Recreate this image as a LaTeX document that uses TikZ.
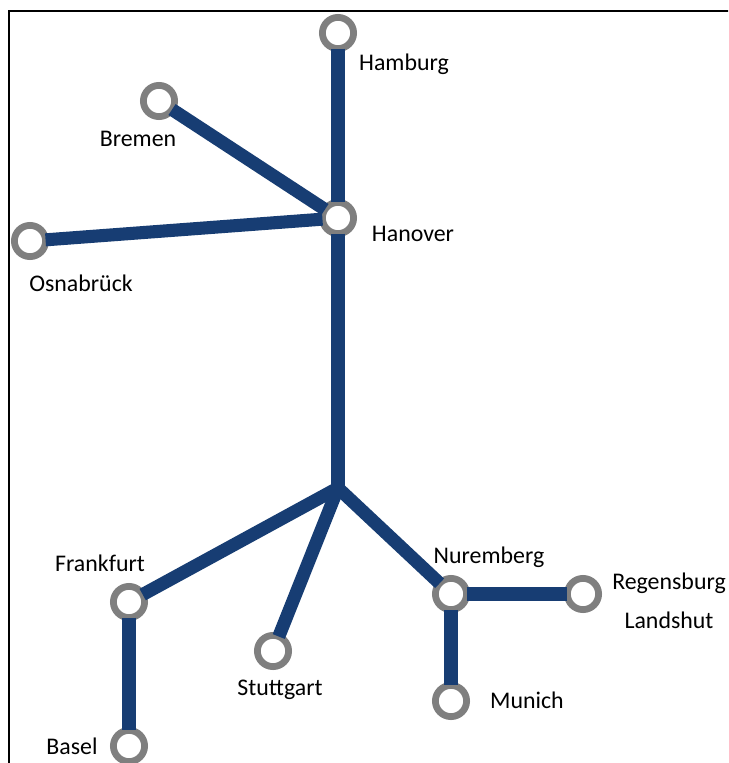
\documentclass[tikz,border=0pt]{standalone}
\usepackage{fontspec}
\setmainfont{Carlito}
\definecolor{linkblue}{HTML}{173D73}
\definecolor{ringgray}{HTML}{7F7F7F}
\tikzset{
  stn/.style={circle,draw=ringgray,fill=white,line width=5.1pt,minimum size=23.4pt,inner sep=0pt,outer sep=0pt},
  link/.style={draw=linkblue,line width=9.8pt},
  lbl/.style={font=\fontsize{17.9pt}{19pt}\selectfont,text=black,inner sep=0pt}
}
\begin{document}
\begin{tikzpicture}[x=0.75pt,y=-0.75pt]
\useasboundingbox (0,0) rectangle (728,763);
\clip (0,0) rectangle (728,763);
\fill[white] (0,0) rectangle (728,763);
\draw[black,line width=1.5pt] (8.5,770) -- (8.5,11) -- (735,11);
\node[stn] (hamburg) at (338,33) {};
\node[stn] (bremen) at (159,101) {};
\node[stn] (hanover) at (338,218) {};
\node[stn] (osna) at (30,241) {};
\node[stn] (frankfurt) at (129,602) {};
\node[stn] (basel) at (129,746) {};
\node[stn] (stuttgart) at (273,651) {};
\node[stn] (nuremberg) at (451,594) {};
\node[stn] (regensburg) at (583,594) {};
\node[stn] (munich) at (451,701) {};
\coordinate (fork) at (338,488);
\draw[link] (hamburg) -- (hanover);
\draw[link] (bremen) -- (hanover);
\draw[link] (osna) -- (hanover);
\draw[link] (hanover) -- (fork);
\draw[link] (fork) -- (frankfurt);
\draw[link] (fork) -- (stuttgart);
\draw[link] (fork) -- (nuremberg);
\draw[link] (frankfurt) -- (basel);
\draw[link] (nuremberg) -- (regensburg);
\draw[link] (nuremberg) -- (munich);
\fill[linkblue] (fork) circle[radius=6];
\node[lbl] (t1) at (404,64) {Hamburg};
\node[lbl] (t2) at (138,138.5) {Bremen};
\node[lbl] (t3) at (413,233.5) {Hanover};
\node[lbl] (t4) at (81,283.5) {Osnabrück};
\node[lbl] (t5) at (100,563.5) {Frankfurt};
\node[lbl] (t6) at (72,746) {Basel};
\node[lbl] (t7) at (280,690) {Stuttgart};
\node[lbl] (t8) at (489,557) {Nuremberg};
\node[lbl] (t9) at (669,583.5) {Regensburg};
\node[lbl] (t10) at (669,620.5) {Landshut};
\node[lbl] (t11) at (527,700.5) {Munich};
\end{tikzpicture}
\end{document}
